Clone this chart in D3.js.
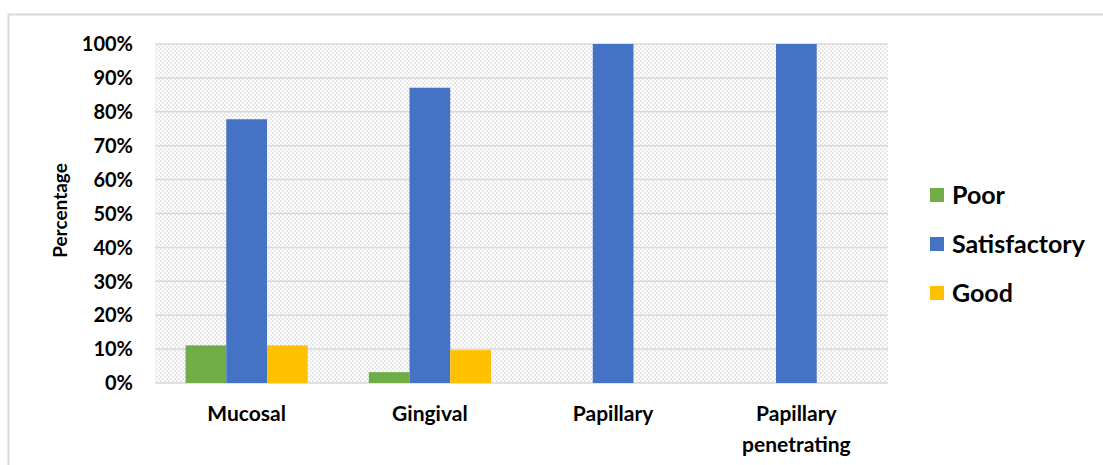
<!DOCTYPE html>
<html>
<head>
<meta charset="utf-8">
<script src="https://cdn.jsdelivr.net/npm/d3@7"></script>
<style>
  body { margin: 0; background: #fff; }
  text { font-family: Lato, "Open Sans", sans-serif; font-weight: bold; fill: #000; }
</style>
</head>
<body>
<div class="chart"></div>
<script>
/* chart data */
const categories = [["Mucosal"], ["Gingival"], ["Papillary"], ["Papillary", "penetrating"]];
const seriesNames = ["Poor", "Satisfactory", "Good"];
const seriesColors = ["#70ad47", "#4472c4", "#ffc000"];
const poor = [11.1, 3.2, 0, 0];
const satisfactory = [77.8, 87.1, 100, 100];
const good = [11.1, 9.7, 0, 0];
const yTicks = [0, 10, 20, 30, 40, 50, 60, 70, 80, 90, 100];

const series = [poor, satisfactory, good];

/* svg */
const width = 1103;
const height = 465;
const svg = d3.select(".chart").append("svg")
  .attr("width", width)
  .attr("height", height);

/* outer chart border */
svg.append("rect")
  .attr("x", 8.5).attr("y", 14.5)
  .attr("width", width).attr("height", height)
  .attr("fill", "none")
  .attr("stroke", "#d9d9d9")
  .attr("stroke-width", 2);

/* hatch pattern for plot background */
const defs = svg.append("defs");
const pat = defs.append("pattern")
  .attr("id", "hatch")
  .attr("patternUnits", "userSpaceOnUse")
  .attr("width", 8).attr("height", 8);
[[0,0],[2,2],[4,4],[6,6],[4,0],[6,2],[0,4],[2,6]].forEach(p => {
  pat.append("rect")
    .attr("x", p[0]).attr("y", p[1])
    .attr("width", 2).attr("height", 2)
    .attr("fill", "#e8e8e8");
});

const margin = {left: 155, right: 215, top: 44, bottom: 82};
const plotW = width - margin.left - margin.right;
const plotH = height - margin.top - margin.bottom;

const x = d3.scaleBand()
  .domain(d3.range(categories.length))
  .range([margin.left, margin.left + plotW]);

/* Excel gap width 150%: band = 3 bars + 1.5 bars */
const barW = x.bandwidth() / 4.5;

const y = d3.scaleLinear()
  .domain([0, 100])
  .range([margin.top + plotH, margin.top]);

svg.append("rect")
  .attr("x", margin.left).attr("y", margin.top)
  .attr("width", plotW).attr("height", plotH)
  .attr("fill", "url(#hatch)");

/* gridlines */
svg.append("g")
  .selectAll("line")
  .data(yTicks)
  .join("line")
    .attr("x1", margin.left).attr("x2", margin.left + plotW)
    .attr("y1", d => y(d)).attr("y2", d => y(d))
    .attr("stroke", "#d9d9d9")
    .attr("stroke-width", 1.5);

/* y axis labels */
svg.append("g")
  .selectAll("text")
  .data(yTicks)
  .join("text")
    .attr("x", 133)
    .attr("y", d => y(d))
    .attr("dy", "0.36em")
    .attr("text-anchor", "end")
    .style("font-size", "20px")
    .text(d => d + "%");

/* y axis title */
svg.append("text")
  .attr("transform", `translate(67,${margin.top + plotH / 2 - 3}) rotate(-90)`)
  .attr("text-anchor", "middle")
  .style("font-size", "19px")
  .text("Percentage");

/* bars */
series.forEach((vals, si) => {
  svg.append("g")
    .selectAll("rect")
    .data(vals)
    .join("rect")
      .attr("x", (d, i) => x(i) + barW * 0.75 + barW * si)
      .attr("y", d => y(d))
      .attr("width", barW)
      .attr("height", d => y(0) - y(d))
      .attr("fill", seriesColors[si]);
});

/* category labels */
const cat = svg.append("g")
  .selectAll("text")
  .data(categories)
  .join("text")
    .attr("x", (d, i) => x(i) + x.bandwidth() / 2)
    .attr("y", 421)
    .attr("text-anchor", "middle")
    .style("font-size", "21px");
cat.selectAll("tspan")
  .data(d => d)
  .join("tspan")
    .attr("x", function() { return this.parentNode.getAttribute("x"); })
    .attr("dy", (d, i) => i === 0 ? 0 : 31)
    .text(d => d);

/* legend */
const legend = svg.append("g")
  .selectAll("g")
  .data(seriesNames)
  .join("g")
    .attr("transform", (d, i) => `translate(930,${195 + i * 49})`);
legend.append("rect")
  .attr("x", 0).attr("y", -7)
  .attr("width", 14).attr("height", 14)
  .attr("fill", (d, i) => seriesColors[i]);
legend.append("text")
  .attr("x", 22)
  .attr("dy", "0.36em")
  .style("font-size", "25px")
  .text(d => d);
</script>
</body>
</html>
